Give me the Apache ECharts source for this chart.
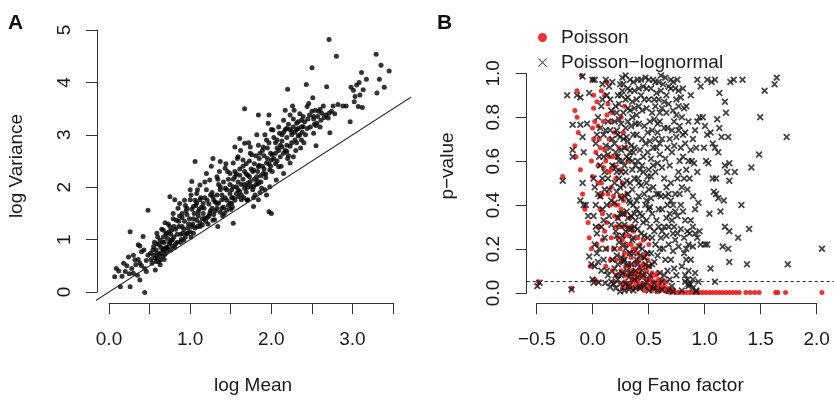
<!DOCTYPE html>
<html>
<head>
<meta charset="utf-8">
<script src="https://cdn.jsdelivr.net/npm/echarts@6/dist/echarts.min.js"></script>
<style>
  html, body { margin: 0; padding: 0; background: #fff; }
  #chart { width: 834px; height: 400px; }
</style>
</head>
<body>
<div id="chart"></div>
<script>
// 面板A：log Mean / log Variance
var meanVarPts = [
  [2.71,4.82],[2.80,4.50],[2.50,4.28],[3.29,4.54],[3.35,4.33],[3.45,4.22],[3.33,4.06],[3.39,3.91],[3.30,3.80],[3.17,4.06],
  [3.11,4.19],[2.98,3.91],[3.01,3.85],[3.05,3.95],[3.08,4.00],[3.03,3.73],[3.02,3.63],[3.07,3.54],[3.12,3.52],[3.09,3.76],
  [3.13,3.86],[2.97,3.25],[2.68,3.92],[2.43,3.96],[2.20,3.87],[2.51,3.71],[2.71,3.41],[2.72,3.04],[2.88,3.55],[2.76,3.55],
  [2.62,3.41],[2.54,3.47],[2.52,3.35],[2.56,3.22],[2.52,3.03],[2.55,2.79],[2.60,3.49],[2.65,3.33],[2.44,3.54],[2.37,3.28],
  [2.31,3.22],[2.28,3.47],[2.23,3.38],[2.17,3.47],[2.15,3.28],[2.19,3.12],[2.25,3.06],[2.33,3.12],[2.39,3.16],[2.37,2.90],
  [2.27,2.58],[2.23,2.46],[2.19,2.68],[2.13,2.77],[2.10,3.03],[2.07,2.90],[2.02,3.09],[1.96,3.22],[1.97,3.38],[1.94,2.90],
  [1.90,2.77],[2.05,2.65],[2.00,2.52],[1.94,2.46],[1.86,2.65],[1.84,2.39],[1.78,2.33],[1.82,2.20],[1.90,2.26],[1.98,2.33],
  [2.09,2.39],[2.15,2.26],[2.06,2.14],[1.98,2.01],[1.92,1.95],[1.94,1.85],[1.84,2.07],[1.78,2.01],[1.74,2.11],[1.69,1.91],
  [1.71,1.76],[1.78,1.63],[1.84,1.76],[1.97,1.53],[2.00,1.50],[1.67,3.50],[1.84,3.38],[1.82,3.00],[1.74,2.77],[1.67,2.84],
  [1.61,2.93],[1.55,2.77],[1.59,2.58],[1.65,2.52],[1.53,2.46],[1.49,2.26],[1.55,2.20],[1.61,2.23],[1.67,2.30],[1.71,2.23],
  [1.53,2.01],[1.49,1.88],[1.57,2.01],[1.59,1.82],[1.63,1.76],[1.51,1.69],[1.45,1.56],[1.53,1.31],[1.39,1.76],[1.37,2.01],
  [1.33,2.20],[1.28,2.55],[1.37,2.49],[1.43,2.36],[1.24,2.14],[1.20,1.95],[1.28,1.82],[1.33,1.69],[1.24,1.50],[1.18,1.41],
  [1.28,1.37],[1.34,1.25],[1.20,2.26],[1.12,2.04],[1.06,2.49],[1.02,2.11],[1.08,1.88],[1.12,1.76],[1.04,1.63],[1.10,1.53],
  [1.16,1.69],[1.00,1.76],[0.96,1.60],[0.90,1.50],[0.87,1.69],[0.81,1.76],[0.79,1.50],[0.83,1.37],[0.90,1.25],[0.92,0.99],
  [0.96,1.12],[1.02,1.25],[1.08,1.37],[1.12,1.25],[0.75,1.25],[0.71,1.12],[0.67,1.18],[0.63,0.99],[0.59,1.12],[0.55,0.87],
  [0.51,0.74],[0.59,0.74],[0.67,0.80],[0.63,0.61],[0.57,0.42],[0.48,1.56],[0.71,0.83],[0.77,0.99],[0.75,1.82],[0.42,1.06],
  [0.36,0.90],[0.40,0.77],[0.32,0.61],[0.38,0.55],[0.26,1.15],[0.24,0.67],[0.18,0.55],[0.28,0.45],[0.09,0.45],[0.07,0.29],
  [0.14,0.10],[0.26,0.10],[0.38,0.23],[0.44,-0.01],[0.20,0.39],[0.30,0.36],[0.46,0.39],
  [0.52,0.62],[0.55,0.70],[0.58,0.80],[0.60,0.66],[0.62,0.90],[0.64,0.75],[0.66,0.68],[0.68,0.95],[0.70,0.85],[0.72,1.02],
  [0.74,0.92],[0.76,1.10],[0.78,0.88],[0.80,1.05],[0.56,0.95],[0.60,1.05],[0.65,1.20],[0.69,0.72],[0.73,1.30],[0.77,1.18],
  [0.53,0.55],[0.61,0.58],[0.67,0.82],[0.71,0.78],
  [0.82,1.20],[0.84,0.95],[0.86,1.35],[0.88,1.10],[0.90,1.42],[0.92,1.20],[0.94,1.05],[0.96,1.48],[0.98,1.30],[1.00,1.15],
  [1.02,1.58],[1.04,1.40],[1.06,1.22],[1.08,1.70],[1.10,1.45],[1.12,1.32],[1.14,1.62],[1.16,1.50],[1.18,1.80],[0.85,1.60],
  [0.93,1.75],[1.01,1.85],[1.09,1.95],[1.15,1.28],[0.89,1.00],[0.97,1.12],
  [1.21,1.42],[1.23,1.68],[1.25,1.55],[1.27,1.90],[1.29,1.48],[1.31,1.72],[1.33,1.60],[1.35,2.05],[1.37,1.52],[1.39,1.85],
  [1.41,1.62],[1.43,1.98],[1.45,1.75],[1.47,2.15],[1.49,1.70],[1.51,1.95],[1.53,1.80],[1.55,2.30],[1.57,1.88],[1.59,2.10],
  [1.26,2.40],[1.36,2.30],[1.44,2.45],[1.30,1.38],[1.40,1.45],[1.50,1.58],
  [1.61,1.92],[1.63,2.05],[1.65,2.40],[1.67,1.98],[1.69,2.25],[1.71,2.08],[1.73,2.50],[1.75,2.02],[1.77,2.30],[1.79,2.15],
  [1.81,2.60],[1.83,2.12],[1.85,2.42],[1.87,2.22],[1.89,2.70],[1.91,2.35],[1.93,2.18],[1.95,2.55],[1.97,2.85],[1.99,2.40],
  [1.62,2.70],[1.72,2.85],[1.80,1.85],[1.88,1.98],[1.70,1.75],[1.76,2.62],
  [2.01,2.62],[2.03,2.95],[2.05,2.45],[2.07,2.75],[2.09,3.15],[2.11,2.58],[2.13,2.88],[2.15,3.05],[2.17,2.70],[2.19,2.95],
  [2.21,3.20],[2.23,2.78],[2.25,3.00],[2.27,3.30],[2.29,2.90],[2.31,3.10],[2.33,2.98],[2.35,3.40],[2.38,3.05],[2.41,3.25],
  [2.44,3.12],[2.47,3.38],[2.12,2.40],[2.20,2.55],[2.30,2.70],[2.40,2.85],
  [2.52,3.30],[2.55,3.18],[2.58,3.45],[2.61,3.28],[2.64,3.55],[2.67,3.38],[2.70,3.32],[2.74,3.45],[2.78,3.40],[2.82,3.58],
  [2.92,3.55],
  [0.12,0.40],[0.16,0.30],[0.22,0.50],[0.25,0.35],[0.30,0.70],[0.33,0.52],[0.36,0.62],[0.40,0.50],[0.43,0.80],[0.46,0.60],
  [0.48,0.70],[0.44,0.45],[0.38,0.88],[0.35,0.32],
  [0.57,0.65],[0.59,0.92],[0.62,0.72],[0.64,0.85],[0.66,0.95],[0.68,0.62],[0.70,1.10],[0.72,0.85],[0.74,1.15],[0.76,0.80],
  [0.78,1.00],[0.80,1.25],[0.82,0.92],[0.84,1.10],[0.86,1.25],[0.88,0.95],[0.54,0.80],[0.58,0.58],[0.63,0.52],[0.67,1.05],
  [0.75,0.95],[0.81,0.85],[0.87,1.45],[0.69,1.32],[0.79,1.40],
  [0.91,1.12],[0.93,1.35],[0.95,1.55],[0.97,1.22],[0.99,1.40],[1.01,1.05],[1.03,1.30],[1.05,1.50],[1.07,1.65],[1.09,1.25],
  [1.11,1.58],[1.13,1.80],[1.15,1.40],[1.17,1.60],[1.19,1.35],[1.21,1.75],[1.23,1.45],[1.25,1.85],[1.27,1.60],[1.29,1.75],
  [0.94,1.65],[1.00,1.95],[1.06,1.75],[1.18,2.10],[1.22,1.30],[1.04,1.12],
  [1.31,1.55],[1.33,1.85],[1.35,1.70],[1.37,1.95],[1.39,1.60],[1.41,2.10],[1.43,1.80],[1.45,1.95],[1.47,1.65],[1.49,2.05],
  [1.51,1.80],[1.53,2.15],[1.55,1.75],[1.57,2.25],[1.59,1.95],[1.61,2.35],[1.63,1.85],[1.65,2.15],[1.67,2.05],[1.69,2.45],
  [1.34,2.15],[1.46,2.30],[1.58,2.55],[1.52,1.62],[1.66,1.80],[1.42,1.50],
  [1.71,2.00],[1.73,2.20],[1.75,2.35],[1.77,1.95],[1.79,2.45],[1.81,2.05],[1.83,2.30],[1.85,2.55],[1.87,2.10],[1.89,2.40],
  [1.91,2.60],[1.93,2.25],[1.95,2.75],[1.97,2.45],[1.99,2.65],[2.01,2.30],[2.03,2.55],[2.05,2.85],[2.07,2.50],[2.09,2.70],
  [1.74,2.65],[1.84,2.80],[1.92,3.00],[2.00,3.10],[1.78,1.80],[1.86,1.90],
  [2.11,2.80],[2.13,3.00],[2.15,2.65],[2.17,3.10],[2.19,2.80],[2.21,2.60],[2.23,3.10],[2.25,2.85],[2.27,3.15],[2.29,3.05],
  [2.31,2.85],[2.33,3.25],[2.35,3.00],[2.37,3.15],[2.39,3.35],[2.42,3.00],[2.45,3.30],[2.48,3.15],[2.50,3.45],[2.53,3.20],
  [2.57,3.35],[2.60,3.15],[2.26,3.55],[2.46,3.60],[2.36,2.75]
];
// 方差 = 均值 参考线
var identityLine = [[-0.2, -0.2], [3.8, 3.8]];

// 面板B：log Fano factor / p-value
var poissonPts = [
  [-0.48,0.05],[-0.18,0.02],[-0.26,0.53],[-0.09,0.99],[-0.13,0.92],[-0.15,0.83],[-0.13,0.80],[-0.12,0.73],[-0.15,0.67],[-0.10,0.56],
  [-0.14,0.62],[-0.08,0.45],[-0.06,0.38],[-0.03,0.32],[-0.02,0.25],[0.00,0.20],[-0.01,0.12],[0.01,0.97],[0.02,0.90],[0.02,0.84],
  [0.03,0.78],[0.00,0.60],[0.01,0.53],[0.01,0.75],[0.03,0.06],[0.05,0.05],
  [0.06,0.76],[0.07,0.70],[0.08,0.66],[0.06,0.58],[0.09,0.50],[0.08,0.44],[0.10,0.36],[0.07,0.30],[0.05,0.22],[0.10,0.24],
  [0.12,0.65],[0.13,0.60],[0.11,0.78],[0.14,0.81],[0.15,0.86],[0.12,0.90],[0.16,0.55],[0.15,0.45],[0.17,0.40],[0.18,0.48],
  [0.16,0.70],[0.19,0.62],[0.20,0.58],[0.21,0.35],[0.22,0.30],[0.18,0.25],[0.20,0.20],[0.22,0.15],[0.19,0.10],[0.23,0.08],
  [0.24,0.40],[0.22,0.52],[0.23,0.62],[0.14,0.32],[0.17,0.15],[0.21,0.05],[0.24,0.25],[0.13,0.12],[0.09,0.92],[0.18,0.78],
  [0.26,0.44],[0.27,0.38],[0.29,0.42],[0.28,0.30],[0.30,0.26],[0.26,0.20],[0.29,0.16],[0.31,0.12],[0.27,0.10],[0.33,0.08],
  [0.30,0.05],[0.35,0.04],[0.28,0.02],[0.32,0.02],[0.34,0.12],[0.36,0.16],[0.38,0.10],[0.37,0.06],[0.40,0.03],[0.39,0.13],
  [0.41,0.09],[0.42,0.05],[0.43,0.15],[0.44,0.08],[0.45,0.12],[0.36,0.22],[0.38,0.28],[0.40,0.20],[0.42,0.25],[0.35,0.34],
  [0.33,0.60],[0.31,0.66],[0.32,0.45],[0.27,0.80],[0.29,0.73],[0.30,0.85],[0.26,0.56],[0.44,0.22],[0.37,0.02],[0.43,0.02],
  [0.46,0.04],[0.48,0.08],[0.50,0.02],[0.52,0.06],[0.54,0.03],[0.56,0.05],[0.58,0.02],[0.60,0.03],[0.62,0.01],[0.64,0.02],
  [0.66,0.01],[0.68,0.005],[0.70,0.003],[0.47,0.13],[0.50,0.10],[0.53,0.12],[0.55,0.09],[0.49,0.18],[0.51,0.15],[0.58,0.08],
  [0.61,0.06],[0.48,0.01],[0.55,0.01],[0.60,0.005],[0.47,0.24],[0.52,0.22],
  [0.72,0.002],[0.75,0.002],[0.78,0.001],[0.80,0.001],[0.83,0.001],[0.86,0.001],[0.89,0.001],[0.92,0.001],[0.95,0.001],[0.98,0.001],
  [1.01,0.001],[1.04,0.001],[1.07,0.001],[1.10,0.001],[1.13,0.001],[1.16,0.001],[1.19,0.001],[1.22,0.001],[1.25,0.001],[1.28,0.001],
  [1.31,0.001],[1.34,0.001],[1.40,0.001],[1.44,0.001],[1.48,0.001],[1.52,0.001],[1.67,0.001],[1.69,0.001],[1.76,0.001],[2.09,0.001],
  [0.02,0.70],[0.04,0.64],[0.06,0.50],[0.08,0.38],[0.10,0.45],[0.12,0.28],[0.14,0.20],[0.16,0.62],[0.18,0.56],[0.20,0.44],
  [0.22,0.40],[0.24,0.34],[0.26,0.30],[0.28,0.24],[0.30,0.18],[0.32,0.22],[0.34,0.18],[0.36,0.10],[0.38,0.05],[0.40,0.14],
  [0.42,0.18],[0.44,0.11],[0.46,0.07],[0.48,0.04],[0.50,0.06],[0.52,0.03],[0.54,0.07],[0.56,0.02],[0.58,0.05],[0.62,0.04],
  [0.66,0.03],[0.70,0.02],[0.74,0.01],[0.30,0.36],[0.32,0.30],[0.34,0.26],[0.36,0.30],[0.38,0.20],[0.28,0.50],[0.25,0.66],
  [0.21,0.73],[0.19,0.82],[0.14,0.96],[0.05,0.87],[0.11,0.57],[0.27,0.14],[0.31,0.08],[0.35,0.08],[0.39,0.08],[0.43,0.10],
  [0.47,0.16],[0.29,0.04],[0.33,0.04],[0.41,0.06],[0.45,0.03],[0.49,0.12],[0.55,0.05],[0.60,0.09],[0.64,0.06],[0.68,0.05]
];
var poissonLognormalPts = [
  [-0.49,0.03],[-0.47,0.045],[-0.18,0.015],[-0.26,0.51],[-0.22,0.90],[-0.13,0.90],[-0.08,0.985],[-0.10,0.89],[-0.17,0.765],[-0.10,0.765],
  [-0.17,0.65],[-0.17,0.62],[-0.08,0.71],[-0.07,0.64],[-0.08,0.50],[-0.10,0.42],[-0.07,0.40],[-0.03,0.35],[-0.02,0.165],[0.00,0.13],
  [0.01,0.06],[0.02,0.045],[0.065,0.047],[0.125,0.044],[0.17,0.026],[-0.05,0.40],[-0.04,0.77],[-0.02,0.91],[0.01,0.97],[0.03,0.97],
  [0.02,0.52],[0.03,0.48],[0.04,0.30],[0.05,0.27],[0.03,0.22],[0.05,0.18],[0.06,0.14],[0.04,0.68],[0.05,0.72],[0.07,0.62],
  [0.08,0.58],[0.06,0.80],[0.09,0.85],[0.10,0.88],[0.08,0.44],[0.10,0.38],[0.11,0.33],[0.12,0.25],[0.13,0.20],[0.14,0.10],
  [0.15,0.52],[0.16,0.47],[0.13,0.67],[0.15,0.63],[0.17,0.74],[0.18,0.83],[0.14,0.90],[0.16,0.94],[0.19,0.96],[0.12,0.55],
  [0.18,0.31],[0.19,0.15],[0.11,0.72],[0.19,0.58],
  [0.20,0.04],[0.22,0.02],[0.24,0.06],[0.21,0.11],[0.23,0.17],[0.25,0.23],[0.22,0.28],[0.24,0.34],[0.21,0.41],[0.23,0.46],
  [0.25,0.52],[0.22,0.57],[0.24,0.62],[0.21,0.68],[0.23,0.74],[0.25,0.79],[0.22,0.85],[0.24,0.90],[0.26,0.95],[0.28,0.98],
  [0.27,0.08],[0.29,0.14],[0.31,0.20],[0.28,0.26],[0.30,0.31],[0.32,0.37],[0.27,0.43],[0.29,0.49],[0.31,0.55],[0.28,0.60],
  [0.30,0.66],[0.32,0.71],[0.27,0.77],[0.29,0.82],[0.31,0.88],[0.33,0.93],[0.35,0.97],[0.34,0.03],[0.36,0.09],[0.33,0.13],
  [0.35,0.18],[0.37,0.24],[0.34,0.29],[0.36,0.35],[0.38,0.40],[0.33,0.45],[0.35,0.50],[0.37,0.56],[0.34,0.61],[0.36,0.67],
  [0.38,0.72],[0.33,0.78],[0.35,0.83],[0.37,0.87],[0.39,0.92],[0.38,0.96],[0.26,0.36],[0.30,0.44],[0.32,0.62],[0.26,0.71],
  [0.36,0.76],[0.39,0.30],[0.39,0.52],[0.28,0.92],[0.31,0.04],[0.39,0.06],[0.27,0.55],[0.33,0.84],
  [0.40,0.02],[0.42,0.07],[0.44,0.03],[0.46,0.10],[0.41,0.15],[0.43,0.21],[0.45,0.27],[0.47,0.32],[0.41,0.38],[0.43,0.44],
  [0.45,0.49],[0.47,0.55],[0.42,0.60],[0.44,0.65],[0.46,0.70],[0.48,0.76],[0.41,0.81],[0.43,0.85],[0.45,0.90],[0.47,0.94],
  [0.42,0.97],[0.49,0.98],[0.50,0.05],[0.52,0.12],[0.54,0.18],[0.51,0.25],[0.53,0.30],[0.55,0.36],[0.50,0.42],[0.52,0.47],
  [0.54,0.53],[0.56,0.58],[0.51,0.64],[0.53,0.69],[0.55,0.74],[0.57,0.79],[0.50,0.84],[0.52,0.88],[0.54,0.93],[0.56,0.97],
  [0.58,0.96],[0.58,0.22],[0.57,0.14],[0.59,0.45],[0.59,0.66],[0.58,0.85],[0.48,0.16],[0.49,0.40],[0.46,0.58],[0.57,0.04],
  [0.60,0.73],[0.62,0.78],[0.64,0.70],[0.66,0.75],[0.68,0.82],[0.61,0.88],[0.63,0.92],[0.65,0.95],[0.67,0.98],[0.70,0.86],
  [0.72,0.93],[0.62,0.63],[0.64,0.57],[0.66,0.52],[0.68,0.48],[0.70,0.45],[0.72,0.42],[0.74,0.40],[0.76,0.37],[0.78,0.35],
  [0.61,0.30],[0.63,0.25],[0.65,0.20],[0.67,0.15],[0.69,0.10],[0.71,0.06],[0.73,0.03],[0.62,0.09],[0.66,0.30],[0.70,0.22],
  [0.74,0.19],[0.76,0.24],[0.79,0.21],[0.78,0.27],[0.73,0.64],[0.75,0.67],[0.77,0.71],[0.79,0.74],[0.71,0.58],[0.69,0.66],
  [0.62,0.82],[0.74,0.83],[0.77,0.88],[0.79,0.92],[0.61,0.45],[0.64,0.38],[0.68,0.34],[0.75,0.11],[0.77,0.08],[0.79,0.55],
  [0.80,0.76],[0.82,0.80],[0.84,0.84],[0.86,0.85],[0.88,0.78],[0.83,0.72],[0.85,0.68],[0.81,0.40],[0.83,0.37],[0.85,0.33],
  [0.87,0.28],[0.89,0.27],[0.81,0.29],[0.86,0.20],[0.88,0.22],[0.84,0.18],[0.82,0.12],[0.87,0.06],[0.90,0.04],[0.92,0.02],
  [0.95,0.01],[0.88,0.03],[0.85,0.08],[0.91,0.60],[0.93,0.59],[0.96,0.55],[0.92,0.44],[0.94,0.38],[0.97,0.41],[0.90,0.90],
  [0.96,0.97],[0.99,0.94],[0.98,0.80],[0.95,0.66],[0.99,0.22],[0.94,0.09],[0.97,0.05],[0.89,0.52],[0.83,0.62],[0.87,0.47],
  [1.01,0.80],[1.03,0.76],[1.04,0.60],[1.06,0.59],[1.02,0.66],[1.05,0.72],[1.08,0.73],[1.10,0.68],[1.12,0.66],[1.14,0.79],
  [1.16,0.75],[1.11,0.46],[1.13,0.45],[1.15,0.43],[1.17,0.37],[1.10,0.52],[1.13,0.52],[1.03,0.22],[1.05,0.22],[1.08,0.11],
  [1.12,0.05],[1.05,0.97],[1.09,0.96],[1.12,0.97],[1.16,0.91],[1.21,0.87],[1.22,0.82],[1.26,0.96],[1.24,0.71],[1.21,0.58],
  [1.23,0.55],[1.25,0.59],[1.25,0.51],[1.21,0.30],[1.25,0.28],[1.19,0.21],[1.24,0.20],[1.25,0.14],[1.18,0.71],[1.20,0.42],
  [1.15,0.64],[1.07,0.36],
  [1.33,0.25],[1.37,0.97],[1.41,0.13],[1.43,0.29],[1.45,0.57],[1.52,0.63],[1.53,0.80],[1.57,0.92],[1.66,0.95],[1.68,0.98],
  [1.77,0.71],[1.78,0.13],[2.09,0.20],[1.29,0.97],[1.30,0.55],[1.36,0.40],
  [0.26,0.005],[0.30,0.01],[0.34,0.015],[0.38,0.01],[0.44,0.02],[0.48,0.03],[0.52,0.01],[0.56,0.02],[0.60,0.01],[0.64,0.015],
  [0.70,0.01],[0.74,0.005],[0.82,0.01],[0.85,0.05],[0.88,0.04],[0.92,0.06],[0.95,0.005],
  [0.02,0.35],[0.04,0.40],[0.06,0.45],[0.03,0.12],[0.07,0.20],[0.09,0.30],[0.10,0.52],[0.12,0.47],[0.14,0.40],[0.16,0.35],
  [0.18,0.42],[0.11,0.62],[0.13,0.74],[0.15,0.78],[0.17,0.66],[0.19,0.70],[0.08,0.75],[0.10,0.95],[0.13,0.97],[0.17,0.88],
  [0.18,0.05],[0.15,0.08],[0.11,0.15],[0.09,0.10],
  [0.21,0.20],[0.23,0.26],[0.25,0.31],[0.27,0.16],[0.29,0.22],[0.31,0.28],[0.33,0.34],[0.35,0.41],[0.37,0.47],[0.39,0.36],
  [0.41,0.42],[0.43,0.50],[0.21,0.50],[0.23,0.55],[0.25,0.60],[0.27,0.65],[0.29,0.70],[0.31,0.75],[0.33,0.69],[0.35,0.64],
  [0.37,0.60],[0.39,0.66],[0.41,0.72],[0.43,0.77],[0.21,0.78],[0.23,0.82],[0.25,0.86],[0.27,0.90],[0.29,0.95],[0.31,0.99],
  [0.33,0.89],[0.35,0.92],[0.37,0.80],[0.39,0.84],[0.41,0.88],[0.43,0.93],[0.45,0.97],[0.22,0.08],[0.24,0.13],[0.26,0.04],
  [0.28,0.09],[0.30,0.15],[0.32,0.10],[0.34,0.07],[0.36,0.13],[0.38,0.18],[0.40,0.10],[0.42,0.13],[0.44,0.17],[0.26,0.48],
  [0.28,0.36],[0.30,0.58],[0.32,0.51],[0.34,0.42],[0.36,0.29],[0.38,0.25],[0.40,0.33],[0.42,0.29],[0.44,0.36],[0.44,0.56],
  [0.42,0.52],[0.40,0.58],[0.38,0.64],[0.24,0.72],[0.22,0.64],[0.40,0.77],
  [0.46,0.20],[0.48,0.26],[0.50,0.33],[0.52,0.38],[0.54,0.43],[0.56,0.48],[0.58,0.55],[0.46,0.35],[0.48,0.45],[0.50,0.50],
  [0.52,0.56],[0.54,0.61],[0.56,0.66],[0.58,0.70],[0.60,0.77],[0.47,0.62],[0.49,0.68],[0.51,0.73],[0.53,0.78],[0.55,0.82],
  [0.57,0.88],[0.59,0.91],[0.61,0.96],[0.63,0.99],[0.46,0.83],[0.48,0.88],[0.50,0.93],[0.52,0.97],[0.47,0.08],[0.49,0.13],
  [0.51,0.18],[0.53,0.08],[0.55,0.13],[0.57,0.28],[0.59,0.33],[0.61,0.38],[0.63,0.44],[0.60,0.17],[0.62,0.20],[0.64,0.28],
  [0.55,0.25],[0.53,0.39],[0.51,0.53],[0.60,0.59],[0.62,0.68],[0.64,0.84],[0.64,0.05],[0.66,0.08],
  [0.66,0.87],[0.68,0.90],[0.70,0.94],[0.72,0.97],[0.74,0.96],[0.76,0.93],[0.78,0.97],[0.67,0.61],[0.69,0.75],[0.71,0.70],
  [0.73,0.74],[0.75,0.78],[0.77,0.81],[0.79,0.85],[0.81,0.89],[0.83,0.93],[0.67,0.44],[0.69,0.40],[0.71,0.36],[0.73,0.33],
  [0.75,0.30],[0.68,0.26],[0.70,0.30],[0.72,0.15],[0.74,0.27],[0.80,0.45],[0.82,0.48],[0.84,0.52],[0.86,0.56],[0.88,0.60],
  [0.90,0.65],[0.92,0.70],[0.94,0.74],[0.96,0.78],[0.81,0.66],[0.85,0.73],[0.90,0.33],[0.92,0.30],[0.94,0.27],[0.96,0.25],
  [0.98,0.28],[0.86,0.15],[0.88,0.10],[0.90,0.15],[0.92,0.21],[0.80,0.60],[0.84,0.25],[0.76,0.45],[0.78,0.52],[0.72,0.50]
];
var alphaLevel = 0.05;

var xTicksA = [0, 3.5], yTicksA = [0, 5];
var xTicksB = [-0.5, 2.0], yTicksB = [0, 1];

var FONT = 'Liberation Sans';
var AXIS_COLOR = '#333';
var TEXT_COLOR = '#1a1a1a';
var RED = '#f41818';
// pch=4 的叉号（填充多边形）
var CROSS = 'path://M0,1.8L1.8,0L5,3.2L8.2,0L10,1.8L6.8,5L10,8.2L8.2,10L5,6.8L1.8,10L0,8.2L3.2,5Z';
var CROSS_THIN = 'path://M0,0.7L0.7,0L5,4.3L9.3,0L10,0.7L5.7,5L10,9.3L9.3,10L5,5.7L0.7,10L0,9.3L4.3,5Z';

function minusFmt(v) {
  var s = Math.abs(v).toFixed(1);
  return v < 0 ? '\u2212' + s : s;
}

function shownAxis(type, gridIndex, range, interval, offset, fmt, margin) {
  return {
    type: 'value', gridIndex: gridIndex, min: range[0], max: range[1], interval: interval,
    offset: offset,
    axisLine: { show: true, onZero: false, lineStyle: { color: AXIS_COLOR, width: 1 } },
    axisTick: { show: true, length: 11, lineStyle: { color: AXIS_COLOR, width: 1 } },
    axisLabel: {
      show: true, formatter: fmt, margin: margin, rotate: type === 'y' ? 90 : 0,
      color: TEXT_COLOR, fontSize: 19, fontFamily: FONT
    },
    splitLine: { show: false }
  };
}

function hiddenAxis(gridIndex, min, max, name, gap) {
  return {
    type: 'value', gridIndex: gridIndex, min: min, max: max,
    name: name, nameLocation: 'middle', nameGap: gap,
    nameTextStyle: { color: TEXT_COLOR, fontSize: 19, fontFamily: FONT },
    axisLine: { show: false, onZero: false }, axisTick: { show: false }, axisLabel: { show: false },
    splitLine: { show: false }
  };
}

var chart = echarts.init(document.getElementById('chart'), null, { renderer: 'canvas' });

var option = {
  animation: false,
  backgroundColor: '#fff',
  title: [
    { text: 'A', left: 3, top: 8, textStyle: { fontSize: 21, fontWeight: 'bold', fontFamily: FONT, color: '#111' } },
    { text: 'B', left: 432, top: 8, textStyle: { fontSize: 21, fontWeight: 'bold', fontFamily: FONT, color: '#111' } }
  ],
  legend: {
    orient: 'vertical', left: 533, top: 22.5, itemWidth: 9, itemHeight: 9, itemGap: 5,
    textStyle: { fontSize: 19, fontFamily: FONT, color: TEXT_COLOR, padding: [0, 0, 0, 9], lineHeight: 20 },
    data: [
      { name: 'Poisson', icon: 'circle', itemStyle: { color: RED } },
      { name: 'Poisson\u2212lognormal', icon: CROSS_THIN, itemStyle: { color: '#222' } }
    ]
  },
  grid: [
    { left: 97, top: 29, width: 312, height: 274 },        // A 绘图区
    { left: 109, top: 30, width: 284, height: 262 },       // A 坐标轴
    { left: 526.7, top: 29, width: 312, height: 274.3 },   // B 绘图区
    { left: 536.7, top: 73.3, width: 280, height: 219.7 }  // B 坐标轴
  ],
  xAxis: [
    hiddenAxis(0, -0.1478, 3.6946, 'log Mean', 73),
    shownAxis('x', 1, xTicksA, 0.5, 11, function (v) {
      return Math.abs(v - Math.round(v)) < 1e-9 ? v.toFixed(1) : '';
    }, 27),
    hiddenAxis(2, -0.5866, 2.1991, 'log Fano factor', 73),
    shownAxis('x', 3, xTicksB, 0.5, 10.3, minusFmt, 27)
  ],
  yAxis: [
    hiddenAxis(0, -0.21, 5.02, 'log Variance', 71),
    shownAxis('y', 1, yTicksA, 1, 12, function (v) { return String(v); }, 23),
    hiddenAxis(2, -0.0469, 1.2016, 'p\u2212value', 69),
    shownAxis('y', 3, yTicksB, 0.2, 10, function (v) { return v.toFixed(1); }, 23)
  ],
  series: [
    {
      type: 'line', xAxisIndex: 0, yAxisIndex: 0, data: identityLine, clip: true,
      symbol: 'none', silent: true,
      lineStyle: { color: '#222', width: 1.2 }
    },
    {
      type: 'scatter', xAxisIndex: 0, yAxisIndex: 0, data: meanVarPts,
      symbol: 'circle', symbolSize: 5, silent: true,
      itemStyle: { color: '#000' }
    },
    {
      name: 'Poisson', type: 'scatter', xAxisIndex: 2, yAxisIndex: 2, data: poissonPts,
      symbol: 'circle', symbolSize: 5, silent: true,
      itemStyle: { color: RED, opacity: 0.9 }
    },
    {
      name: 'Poisson\u2212lognormal', type: 'scatter', xAxisIndex: 2, yAxisIndex: 2, data: poissonLognormalPts,
      symbol: CROSS, symbolSize: 7, silent: true,
      itemStyle: { color: '#151515' },
      markLine: {
        silent: true, symbol: 'none', label: { show: false },
        lineStyle: { color: '#222', type: [3, 3], width: 1 },
        data: [{ yAxis: alphaLevel }]
      }
    }
  ]
};

chart.setOption(option);
</script>
</body>
</html>
